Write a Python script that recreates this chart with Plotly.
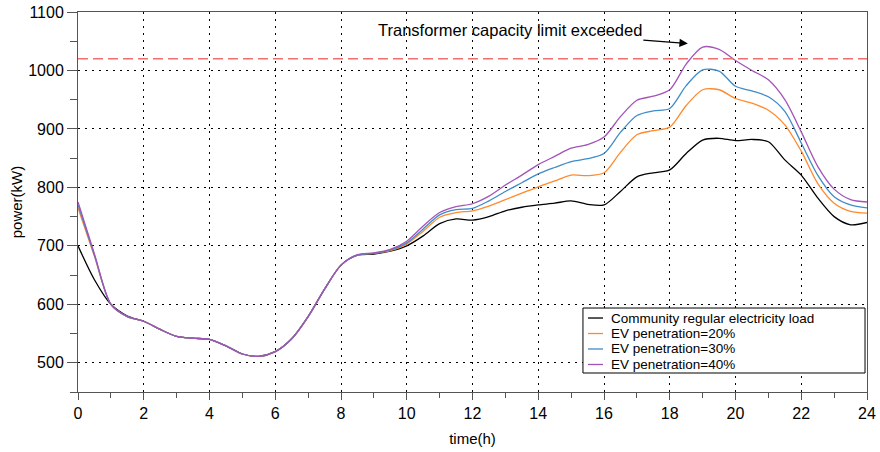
import plotly.graph_objects as go

hours = [i * 0.5 for i in range(49)]

base_load = [700, 642, 600, 580, 571, 557, 545, 542, 540, 529, 515, 511, 519, 541, 579, 626,
             667, 684, 686, 691, 700, 717, 738, 746, 744, 750, 760, 766, 770, 773, 777, 771,
             770, 793, 818, 825, 830, 858, 881, 884, 880, 882, 878, 847, 821, 782, 750, 736, 740]

ev20 = [765, 682, 600, 579, 571, 557, 545, 542, 540, 529, 515, 511, 519, 541, 579, 626,
        667, 684, 687, 692, 703, 725, 749, 757, 760, 768, 779, 790, 801, 811, 821, 820,
        825, 860, 890, 897, 903, 940, 967, 967, 952, 944, 932, 907, 862, 807, 773, 759, 756]

ev30 = [770, 684, 600, 579, 571, 557, 545, 542, 540, 529, 515, 511, 519, 541, 579, 626,
        667, 684, 687, 693, 705, 729, 753, 762, 764, 777, 793, 808, 823, 834, 844, 849,
        858, 894, 923, 931, 935, 974, 1001, 999, 973, 965, 955, 930, 876, 821, 784, 770, 765]

ev40 = [775, 686, 600, 579, 571, 557, 545, 542, 540, 529, 515, 511, 519, 541, 579, 626,
        667, 685, 688, 694, 708, 734, 757, 767, 772, 785, 804, 821, 839, 853, 867, 873,
        886, 921, 949, 956, 967, 1011, 1040, 1036, 1017, 1000, 984, 950, 895, 836, 797, 779, 775]

capacity_limit = 1020

series_names = ["Community regular electricity load", "EV penetration=20%",
                "EV penetration=30%", "EV penetration=40%"]
series_values = [base_load, ev20, ev30, ev40]
series_colors = ["#000000", "#ff8a2e", "#3f8cc9", "#a354b8"]

FONT = "Liberation Sans, Arial, Helvetica, sans-serif"

fig = go.Figure()
for name, vals, color in zip(series_names, series_values, series_colors):
    fig.add_trace(go.Scatter(
        x=hours, y=vals, mode="lines", name=name, showlegend=False,
        line=dict(color=color, width=1.3, shape="spline", smoothing=0.8),
    ))

fig.add_shape(type="line", xref="paper", x0=0, x1=1, yref="y",
              y0=capacity_limit, y1=capacity_limit,
              line=dict(color="#f07070", width=1.6, dash="10px,5px"))

fig.add_annotation(
    x=18.55, y=1046, xref="x", yref="y",
    text="Transformer capacity limit exceeded",
    showarrow=True, axref="pixel", ayref="pixel", ax=-178, ay=-14,
    arrowhead=2, arrowsize=1.4, arrowwidth=1.2, arrowcolor="#000000",
    font=dict(family=FONT, size=16.5, color="#000000"),
)

# legend box (drawn manually to match the compact original)
lx0, lx1, ly0, ly1 = 0.640, 0.9975, 0.050, 0.221
fig.add_shape(type="rect", xref="paper", yref="paper", x0=lx0, x1=lx1, y0=ly0, y1=ly1,
              line=dict(color="#000000", width=1), fillcolor="#ffffff", layer="above")
row_y = [0.1947, 0.1539, 0.1132, 0.0724]
for name, color, ry in zip(series_names, series_colors, row_y):
    fig.add_shape(type="line", xref="paper", yref="paper",
                  x0=0.6464, x1=0.6654, y0=ry, y1=ry,
                  line=dict(color=color, width=1.3), layer="above")
    fig.add_annotation(x=0.673, y=ry, xref="paper", yref="paper", text=name,
                       showarrow=False, xanchor="left", yanchor="middle",
                       font=dict(family=FONT, size=13.5, color="#000000"))

axis_common = dict(
    showline=True, linecolor="#555555", linewidth=1, mirror=True,
    ticks="outside", tickcolor="#555555", tickwidth=1,
    showgrid=True, gridcolor="#000000", gridwidth=1, griddash="2px,5px",
    zeroline=False, automargin=False, ticklabeloverflow="allow",
    tickfont=dict(family=FONT, size=16, color="#000000"),
)

fig.update_xaxes(
    range=[0, 24], tick0=0, dtick=2, ticklen=7,
    minor=dict(dtick=1, ticks="outside", ticklen=5, tickcolor="#555555", showgrid=False),
    title=dict(text="time(h)", font=dict(family=FONT, size=15, color="#000000"), standoff=12),
    **axis_common,
)
fig.update_yaxes(
    range=[450, 1100], tick0=0, dtick=100, ticklen=10,
    minor=dict(dtick=50, ticks="outside", ticklen=7, tickcolor="#555555", showgrid=False),
    title=dict(text="power(kW)", font=dict(family=FONT, size=15, color="#000000"), standoff=1),
    **axis_common,
)

fig.update_layout(
    width=880, height=452, autosize=False,
    margin=dict(l=78, r=13, t=12, b=60),
    plot_bgcolor="#ffffff", paper_bgcolor="#ffffff",
    font=dict(family=FONT, color="#000000"),
    showlegend=False,
)

# remove the default page margin so the figure fills the 880x452 window exactly
fig.write_html("out.html",
               config={"displayModeBar": False, "staticPlot": True},
               post_script="document.body.style.margin='0';document.body.style.overflow='hidden';")
